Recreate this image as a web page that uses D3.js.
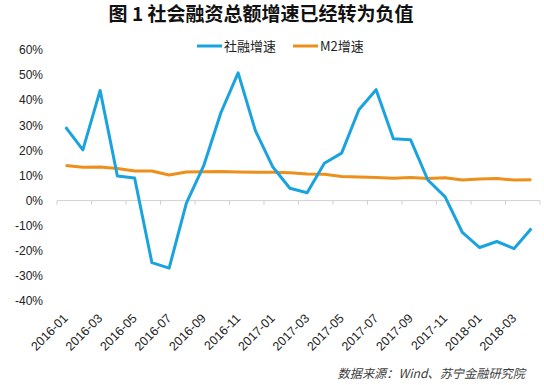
<!DOCTYPE html>
<html><head><meta charset="utf-8">
<script src="https://cdn.jsdelivr.net/npm/d3@7"></script>
<style>body{margin:0;background:#fff;}svg{display:block;}</style>
</head><body>
<svg id="c" width="544" height="385"></svg>
<script>
const months = ["2016-01","2016-02","2016-03","2016-04","2016-05","2016-06","2016-07","2016-08","2016-09","2016-10","2016-11","2016-12",
"2017-01","2017-02","2017-03","2017-04","2017-05","2017-06","2017-07","2017-08","2017-09","2017-10","2017-11","2017-12",
"2018-01","2018-02","2018-03","2018-04"];
const tsfGrowth = [29.3,20.2,43.9,9.8,9.0,-24.7,-26.9,-1.0,13.8,35.0,50.9,27.9,13.5,4.9,3.1,14.9,18.9,36.2,44.2,24.6,24.2,8.2,1.5,-12.7,-18.7,-16.3,-19.1,-11.1];
const m2Growth = [14.0,13.3,13.4,12.8,11.8,11.8,10.2,11.4,11.5,11.6,11.4,11.3,11.3,11.1,10.6,10.5,9.6,9.4,9.2,8.9,9.2,8.8,9.1,8.2,8.6,8.8,8.2,8.3];
const yTicks = [-40,-30,-20,-10,0,10,20,30,40,50,60];
const seriesNames = ["社融增速","M2增速"];
const title = "图 1 社会融资总额增速已经转为负值";
const source = "数据来源：Wind、苏宁金融研究院";

const svg = d3.select("#c");
const x = d3.scaleBand().domain(months).range([57,540]);
const y = d3.scaleLinear().domain([-40,60]).range([301,50]);
const cx = m => x(m) + x.bandwidth()/2;
const font = "'Noto Sans CJK SC','Noto Sans',sans-serif";

svg.append("text").attr("x",261).attr("y",14).attr("dy","0.35em")
  .attr("text-anchor","middle").attr("font-family",font).attr("font-weight","bold")
  .attr("font-size",19).attr("fill","#111").attr("xml:space","preserve").text(title);

// y labels
svg.append("g").selectAll("text").data(yTicks).join("text")
  .attr("x",43).attr("y",d=>y(d)).attr("dy","0.35em").attr("text-anchor","end")
  .attr("font-family","'Liberation Sans',Arial,sans-serif").attr("font-size",12).attr("fill","#222")
  .text(d=>d+"%");

// x axis line at 0
const y0 = y(0);
svg.append("line").attr("x1",57).attr("x2",540).attr("y1",y0).attr("y2",y0)
  .attr("stroke","#d0d0d0").attr("stroke-width",1);
const tickIdx = d3.range(0, months.length+1, 2);
svg.append("g").selectAll("line").data(tickIdx).join("line")
  .attr("x1",i=>57+i*x.step()).attr("x2",i=>57+i*x.step())
  .attr("y1",y0).attr("y2",y0+4).attr("stroke","#d0d0d0");

// x labels
const labelMonths = months.filter((m,i)=>i%2===0);
svg.append("g").selectAll("text").data(labelMonths).join("text")
  .attr("transform",m=>`translate(${cx(m)+3},${319}) rotate(-45)`)
  .attr("text-anchor","end")
  .attr("font-family","'Liberation Sans',Arial,sans-serif").attr("font-size",12.5).attr("fill","#222")
  .text(m=>m);

const line = d3.line().x((d,i)=>cx(months[i])).y(d=>y(d));
svg.append("path").datum(m2Growth).attr("d",line).attr("fill","none")
  .attr("stroke","#EC8F1B").attr("stroke-width",3).attr("stroke-linejoin","round");
svg.append("path").datum(tsfGrowth).attr("d",line).attr("fill","none")
  .attr("stroke","#1AA3DE").attr("stroke-width",3).attr("stroke-linejoin","round");

// legend
const leg = [{n:seriesNames[0],c:"#1AA3DE",x:197},{n:seriesNames[1],c:"#EC8F1B",x:293}];
const lg = svg.append("g").selectAll("g").data(leg).join("g");
lg.append("line").attr("x1",d=>d.x).attr("x2",d=>d.x+25).attr("y1",46).attr("y2",46)
  .attr("stroke",d=>d.c).attr("stroke-width",3);
lg.append("text").attr("x",d=>d.x+27).attr("y",46).attr("dy","0.35em")
  .attr("font-family",font).attr("font-size",13).attr("fill","#222").text(d=>d.n);

svg.append("text").attr("x",525).attr("y",374).attr("dy","0.35em").attr("text-anchor","end")
  .attr("font-family",font).attr("font-style","italic").attr("font-size",12.2).attr("fill","#404040")
  .text(source);
</script>
</body></html>
